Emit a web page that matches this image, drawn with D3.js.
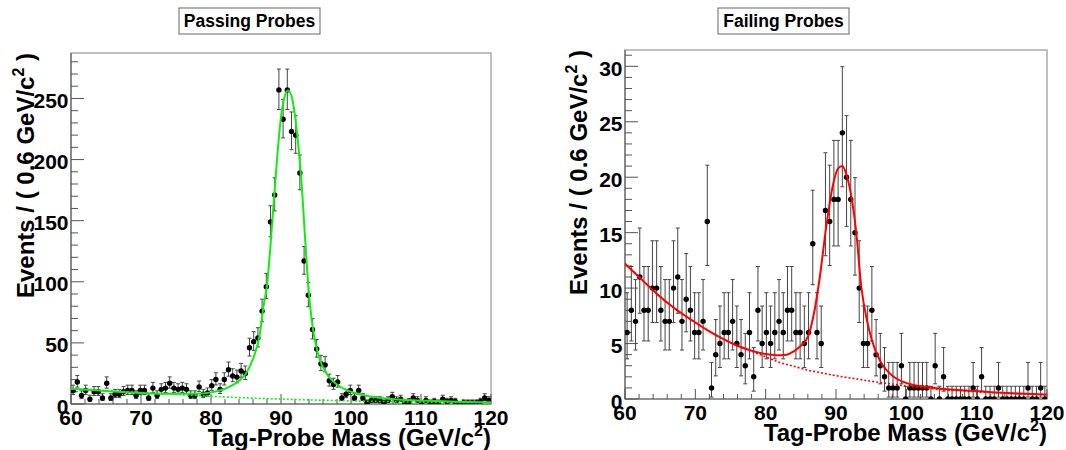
<!DOCTYPE html>
<html>
<head>
<meta charset="utf-8">
<script src="https://cdn.jsdelivr.net/npm/d3@7"></script>
<style>
  body { margin: 0; background: #fff; }
  svg { display: block; font-family: "Liberation Sans", Arial, sans-serif; font-weight: bold; }
</style>
</head>
<body>
<svg id="chart" width="1066" height="450"></svg>
<script>
// binning of both histograms: 100 bins of 0.6 GeV from 60 to 120
var massLo = 60, binWidth = 0.6;

var passCounts = [11,18,7,11,4,10,10,5,17,5, 8,8,10,11,11,7,11,11,5,13,
  7,12,13,17,13,12,13,12,7,7, 14,8,9,15,20,12,20,28,23,22,
  27,25,46,51,54,76,96,149,171,257, 233,257,223,220,189,117,89,61,45,33,
  32,19,16,18,5,8,11,5,11,5, 1,3,3,3,1,3,6,3,4,1,
  2,5,3,0,3,1,2,1,4,2, 3,2,0,1,1,1,1,2,5,3];

var failCounts = [6,8,7,11,8,8,10,10,8,7, 7,10,11,7,9,8,6,6,7,16,
  1,4,5,6,6,7,5,4,3,6, 2,8,5,6,5,6,7,6,8,8,
  6,6,5,6,14,6,5,17,16,18, 18,24,20,18,15,10,5,5,8,4,
  3,2,1,1,1,3,0,1,1,1, 1,1,0,3,0,2,0,0,0,0,
  0,0,1,0,2,0,0,0,1,0, 0,0,0,0,0,1,0,0,1,0];

// fitted curves as [mass, events]
var passFit = [[60,12.5],[63,11.5],[66,10.2],[70,9],[74,8.3],[78,8.3],[80,9.5],[82,12.5],
  [84,19],[85,25],[86,37],[87,58],[87.5,80],[88,97],[88.5,130],[89,168],[89.5,205],
  [90,235],[90.5,251],[91,256.5],[91.5,252],[92,236],[92.5,210],[93,176],[93.5,130],
  [94,90],[94.5,64],[95,48],[95.5,37],[96.5,25],[98,16],[100,10],[102,7],[105,4.5],
  [110,2.8],[115,1.9],[120,1.4]];
var passBkg = [[60,12.5],[65,11],[70,9.3],[75,7.8],[80,6.3],[85,5],[90,4],[95,3.2],
  [100,2.5],[105,2],[110,1.5],[115,1.2],[120,0.9]];

var failFit = [[60,12.2],[62,11],[64.5,9.5],[67,8.2],[70,6.9],[72,6.1],[74,5.4],[76,4.8],
  [78,4.35],[80,4.05],[81.5,3.95],[83,4.0],[84,4.3],[85,4.8],[86,5.6],[86.8,7.5],
  [87.7,11],[88.6,15.5],[89.6,19.4],[90.3,20.8],[90.9,21.0],[91.5,20.2],[92.2,18.2],
  [92.9,14.9],[93.6,10.1],[94.4,7.1],[95.1,5.3],[96.3,3.4],[97.2,2.6],[98.2,2.0],
  [100.5,1.35],[104,1.0],[108,0.78],[112,0.62],[116,0.5],[120,0.4]];
var failBkg = [[60,12.2],[62,11],[64,9.8],[66,8.7],[68,7.7],[70,6.9],[72,6.1],[74,5.4],
  [76,4.8],[78,4.3],[80,3.8],[82,3.3],[84,2.95],[86,2.6],[88,2.35],[90,2.1],[92,1.9],
  [95,1.6],[98,1.35],[100,1.15],[104,0.9],[108,0.72],[112,0.58],[116,0.47],[120,0.38]];

var xTicks = [60,70,80,90,100,110,120];
var passYTicks = [0,50,100,150,200,250];
var failYTicks = [0,5,10,15,20,25,30];

var panels = [
  { title: 'Passing Probes', counts: passCounts, fit: passFit, bkg: passBkg, yTicks: passYTicks,
    color: '#10ee10', left: 71, right: 491, top: 53, bottom: 404, yMax: 287.2, yMinor: 10,
    box: [179, 8, 141, 26], yTitleX: 34 },
  { title: 'Failing Probes', counts: failCounts, fit: failFit, bkg: failBkg, yTicks: failYTicks,
    color: '#ff0000', left: 625, right: 1047, top: 50, bottom: 399, yMax: 31.47, yMinor: 1,
    box: [718, 8, 131, 26], yTitleX: 587 }
];

// Poisson central interval (68%) for a count
function poisCdf(n, mu) {
  var term = Math.exp(-mu), sum = term;
  for (var k = 1; k <= n; k++) { term *= mu / k; sum += term; }
  return sum;
}
function solve(f, target, lo, hi) {
  // f decreasing in mu
  for (var it = 0; it < 60; it++) {
    var mid = (lo + hi) / 2;
    if (f(mid) > target) lo = mid; else hi = mid;
  }
  return (lo + hi) / 2;
}
function poisInterval(n) {
  if (n === 0) return [0, solve(function(mu) { return poisCdf(0, mu); }, 0.3173, 0, 10)];
  var lo = solve(function(mu) { return poisCdf(n - 1, mu); }, 0.8413, 0, n);
  var hi = solve(function(mu) { return poisCdf(n, mu); }, 0.1587, n, n + 10 * Math.sqrt(n) + 10);
  return [lo, hi];
}

var svg = d3.select('#chart');
svg.append('rect').attr('width', 1066).attr('height', 450).attr('fill', '#fff');

panels.forEach(function(p, pi) {
  var x = d3.scaleLinear().domain([60, 120]).range([p.left, p.right]);
  var y = d3.scaleLinear().domain([0, p.yMax]).range([p.bottom, p.top]);
  var g = svg.append('g');

  // title box
  g.append('rect')
    .attr('x', p.box[0]).attr('y', p.box[1]).attr('width', p.box[2]).attr('height', p.box[3])
    .attr('fill', '#fff').attr('stroke', '#666').attr('stroke-width', 1);
  g.append('text')
    .attr('x', p.box[0] + p.box[2] / 2).attr('y', p.box[1] + 19)
    .attr('text-anchor', 'middle').attr('font-size', 17.5).attr('fill', '#000')
    .text(p.title);

  // frame
  g.append('rect')
    .attr('x', p.left).attr('y', p.top).attr('width', p.right - p.left).attr('height', p.bottom - p.top)
    .attr('fill', 'none').attr('stroke', '#aaa').attr('stroke-width', 1.5);

  var clipId = 'clip' + pi;
  svg.append('clipPath').attr('id', clipId).append('rect')
    .attr('x', p.left).attr('y', p.top).attr('width', p.right - p.left).attr('height', p.bottom - p.top);

  // axes lines
  g.append('line').attr('x1', p.left).attr('x2', p.left).attr('y1', p.top).attr('y2', p.bottom)
    .attr('stroke', '#666').attr('stroke-width', 1.2);
  g.append('line').attr('x1', p.left).attr('x2', p.right).attr('y1', p.bottom).attr('y2', p.bottom)
    .attr('stroke', '#666').attr('stroke-width', 1.2);

  // y ticks
  var yMinorTicks = d3.range(0, p.yMax, p.yMinor);
  g.selectAll('.ytick').data(yMinorTicks).enter().append('line')
    .attr('x1', p.left)
    .attr('x2', function(d) { return p.left + (p.yTicks.indexOf(Math.round(d * 1000) / 1000) >= 0 ? 13 : 7); })
    .attr('y1', function(d) { return y(d); }).attr('y2', function(d) { return y(d); })
    .attr('stroke', '#555').attr('stroke-width', 1);
  g.selectAll('.ylab').data(p.yTicks).enter().append('text')
    .attr('x', p.left - 2.5).attr('y', function(d) { return y(d) + 9.5; })
    .attr('text-anchor', 'end').attr('font-size', 21).attr('fill', '#000')
    .text(function(d) { return d; });

  // x ticks
  var xMinorTicks = d3.range(60, 120.01, 2);
  g.selectAll('.xtick').data(xMinorTicks).enter().append('line')
    .attr('x1', function(d) { return x(d); }).attr('x2', function(d) { return x(d); })
    .attr('y1', p.bottom)
    .attr('y2', function(d) { return p.bottom - (d % 10 === 0 ? 10 : 5); })
    .attr('stroke', '#555').attr('stroke-width', 1);
  g.selectAll('.xlab').data(xTicks).enter().append('text')
    .attr('x', function(d) { return x(d); }).attr('y', p.bottom + 21)
    .attr('text-anchor', 'middle').attr('font-size', 21).attr('fill', '#000')
    .text(function(d) { return d; });

  // axis titles
  var xt = g.append('text')
    .attr('x', p.right).attr('y', p.bottom + 42)
    .attr('text-anchor', 'end').attr('font-size', 24).attr('fill', '#000');
  xt.append('tspan').text('Tag-Probe Mass (GeV/c');
  xt.append('tspan').attr('dy', -10).attr('font-size', 16).text('2');
  xt.append('tspan').attr('dy', 10).text(')');

  var yt = g.append('text')
    .attr('transform', 'translate(' + p.yTitleX + ',' + p.top + ') rotate(-90)')
    .attr('text-anchor', 'end').attr('font-size', 24).attr('fill', '#000');
  yt.append('tspan').text('Events / ( 0.6 GeV/c');
  yt.append('tspan').attr('dy', -10).attr('font-size', 16).text('2');
  yt.append('tspan').attr('dy', 10).text(' )');

  // data points with Poisson error bars
  var pts = p.counts.map(function(c, i) {
    var iv = poisInterval(c);
    return { m: massLo + binWidth * (i + 0.5), n: c, lo: iv[0], hi: iv[1] };
  });
  var dg = g.append('g').attr('clip-path', 'url(#' + clipId + ')');
  dg.selectAll('.err').data(pts).enter().append('line')
    .attr('x1', function(d) { return x(d.m); }).attr('x2', function(d) { return x(d.m); })
    .attr('y1', function(d) { return y(d.lo); }).attr('y2', function(d) { return y(d.hi); })
    .attr('stroke', '#444').attr('stroke-width', 1);
  dg.selectAll('.capHi').data(pts).enter().append('line')
    .attr('x1', function(d) { return x(d.m) - 2; }).attr('x2', function(d) { return x(d.m) + 2; })
    .attr('y1', function(d) { return y(d.hi); }).attr('y2', function(d) { return y(d.hi); })
    .attr('stroke', '#444').attr('stroke-width', 1);
  dg.selectAll('.capLo').data(pts).enter().append('line')
    .attr('x1', function(d) { return x(d.m) - 2; }).attr('x2', function(d) { return x(d.m) + 2; })
    .attr('y1', function(d) { return y(d.lo); }).attr('y2', function(d) { return y(d.lo); })
    .attr('stroke', '#444').attr('stroke-width', 1);
  dg.selectAll('.pt').data(pts).enter().append('circle')
    .attr('cx', function(d) { return x(d.m); }).attr('cy', function(d) { return y(d.n); })
    .attr('r', 2.7).attr('fill', '#000');

  // fit curves
  var line = d3.line()
    .x(function(d) { return x(d[0]); })
    .y(function(d) { return y(d[1]); })
    .curve(d3.curveMonotoneX);
  dg.append('path').datum(p.bkg).attr('d', line)
    .attr('fill', 'none').attr('stroke', p.color).attr('stroke-width', 1.6)
    .attr('stroke-dasharray', '2,2');
  dg.append('path').datum(p.fit).attr('d', line)
    .attr('fill', 'none').attr('stroke', p.color).attr('stroke-width', 2);
});
</script>
</body>
</html>
